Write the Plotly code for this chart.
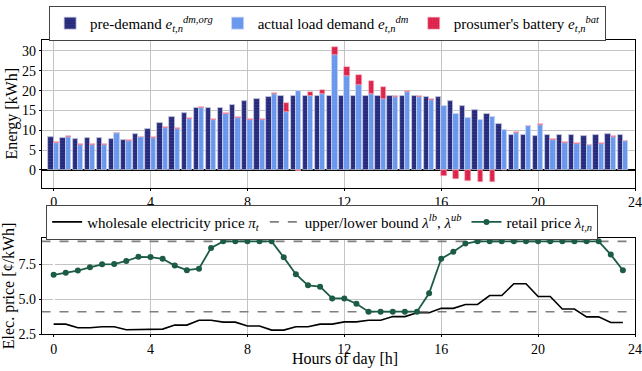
import numpy as np
import plotly.graph_objects as go

hours = [i * 0.5 for i in range(48)]

pre_demand = [8.3, 8.1, 7.8, 8.1, 8.1, 7.8, 7.5, 9.0, 10.3, 11.8, 13.3, 14.3, 15.5, 15.5, 15.6, 16.5,
              17.5, 18.0, 18.5, 18.7, 18.7, 18.7, 18.7, 18.7, 18.7, 18.7, 18.7, 18.7, 18.7, 18.7, 18.6, 18.5,
              18.5, 17.5, 16.2, 15.2, 14.2, 11.7, 8.9, 8.8, 8.6, 8.8, 8.8, 8.8, 8.6, 8.8, 9.0, 8.8]
actual_demand = [6.9, 8.4, 6.3, 6.3, 6.4, 9.2, 7.4, 8.2, 8.0, 10.6, 10.3, 12.9, 15.6, 12.6, 14.1, 13.1,
                 12.7, 12.6, 19.1, 14.5, 19.9, 18.7, 19.2, 29.0, 23.7, 21.4, 19.2, 17.9, 18.5, 19.7, 18.5, 17.7,
                 16.0, 14.0, 13.2, 12.5, 13.4, 10.1, 9.4, 11.0, 11.3, 7.5, 6.8, 6.5, 6.2, 6.5, 8.4, 7.2]
battery = [0.2, 0.2, 0.2, 0.2, 0.2, 0.2, 0.1, 0.2, 0.2, 0.2, 0.2, 0.2, 0.2, 0.2, 0.2, 0.2,
           0.2, 0.2, 0.2, 2.4, -0.3, 1.0, 1.0, 2.1, 2.2, 2.5, 3.2, 2.9, 0.2, 0.2, 0.2, 0.3,
           -1.6, -2.2, -2.9, -3.1, -3.1, -0.1, 0.2, 0.2, 0.2, 0.2, 0.2, 0.2, 0.2, 0.2, 0.2, 0.2]

wholesale = [3.21, 3.21, 2.95, 2.95, 3.02, 3.02, 2.81, 2.81, 2.85, 2.85, 3.14, 3.14, 3.49, 3.49, 3.35, 3.35,
             3.07, 3.07, 2.78, 2.78, 3.02, 3.02, 3.21, 3.21, 3.37, 3.37, 3.49, 3.49, 3.75, 3.75, 4.03, 4.03,
             4.34, 4.34, 4.62, 4.62, 5.26, 5.26, 6.11, 6.11, 5.19, 5.19, 4.29, 4.29, 3.73, 3.73, 3.33, 3.33]
retail = [6.75, 6.89, 7.05, 7.29, 7.5, 7.52, 7.74, 8.04, 8.02, 7.9, 7.41, 7.08, 7.19, 8.68, 9.15, 9.15,
          9.15, 9.15, 9.15, 8.0, 6.79, 5.99, 5.9, 5.05, 5.05, 4.67, 4.1, 4.1, 4.1, 4.1, 4.1, 5.42,
          7.9, 8.4, 8.99, 9.15, 9.15, 9.15, 9.15, 9.15, 9.15, 9.15, 9.15, 9.15, 9.15, 9.15, 8.2, 7.08]
lower_bound = 4.1
upper_bound = 9.15

x_ticks = [0, 4, 8, 12, 16, 20, 24]

FONT = "Liberation Serif"
BAR_W = 0.22
h = np.array(hours)

fig = go.Figure()

fig.add_trace(go.Bar(
    x=h - BAR_W / 2, y=pre_demand, width=BAR_W,
    name="pre-demand <i>e</i><sub><i>t,n</i></sub><sup><i>dm,org</i></sup>",
    marker=dict(color="#262a78", line=dict(color="#c9c9df", width=0.8),
                pattern=dict(shape="-", fgcolor="#3d429a", size=3, solidity=0.35)),
    xaxis="x", yaxis="y", legend="legend"))
fig.add_trace(go.Bar(
    x=h + BAR_W / 2, y=actual_demand, width=BAR_W,
    name="actual load demand <i>e</i><sub><i>t,n</i></sub><sup><i>dm</i></sup>",
    marker=dict(color="#6595ec", line=dict(color="#c9d4ef", width=0.8),
                pattern=dict(shape=".", fgcolor="#80a9f2", size=3, solidity=0.3)),
    xaxis="x", yaxis="y", legend="legend"))
fig.add_trace(go.Bar(
    x=h + BAR_W / 2, y=battery, width=BAR_W,
    name="prosumer's battery <i>e</i><sub><i>t,n</i></sub><sup><i>bat</i></sup>",
    marker=dict(color="#dc1e46", line=dict(color="#f0b8c6", width=0.6),
                pattern=dict(shape=".", fgcolor="#e84a6a", size=3, solidity=0.3)),
    xaxis="x", yaxis="y", legend="legend"))

fig.add_trace(go.Scatter(
    x=hours, y=wholesale, mode="lines", name="wholesale electricity price <i>π<sub>t</sub></i>",
    line=dict(color="black", width=1.6), xaxis="x2", yaxis="y2", legend="legend2"))
fig.add_trace(go.Scatter(
    x=[-0.5, 24], y=[upper_bound, upper_bound], mode="lines",
    name="upper/lower bound <i>λ</i><sup><i>lb</i></sup>, <i>λ</i><sup><i>ub</i></sup>",
    line=dict(color="#7f7f7f", width=1.6, dash="dash"), xaxis="x2", yaxis="y2", legend="legend2"))
fig.add_trace(go.Scatter(
    x=[-0.5, 24], y=[lower_bound, lower_bound], mode="lines", showlegend=False,
    line=dict(color="#7f7f7f", width=1.6, dash="dash"), xaxis="x2", yaxis="y2"))
fig.add_trace(go.Scatter(
    x=hours, y=retail, mode="lines+markers", name="retail price <i>λ<sub>t,n</sub></i>",
    line=dict(color="#1d5c44", width=1.8), marker=dict(color="#1d5c44", size=6),
    xaxis="x2", yaxis="y2", legend="legend2"))

axis_common = dict(showline=True, mirror=True, linecolor="black", linewidth=1.2,
                   showgrid=True, gridcolor="#c4c4c4", gridwidth=1.2,
                   ticks="outside", ticklen=2, tickcolor="black", automargin=False,
                   ticklabeloverflow="allow",
                   tickfont=dict(family=FONT, size=14, color="black"))

fig.update_layout(
    width=642, height=371,
    margin=dict(l=42, r=7, t=40, b=37, autoexpand=False),
    plot_bgcolor="white", paper_bgcolor="white",
    font=dict(family=FONT, size=15, color="black"),
    barmode="relative", bargap=0,
    xaxis=dict(domain=[0, 1], range=[-0.48, 24], tickvals=x_ticks, anchor="y", **axis_common),
    yaxis=dict(domain=[0.498, 1], range=[-4.46, 32.77], tickvals=[0, 5, 10, 15, 20, 25, 30],
               zeroline=True, zerolinecolor="black", zerolinewidth=1.8, anchor="x",
               title=dict(text="Energy [kWh]", font=dict(family=FONT, size=16), standoff=0),
               **axis_common),
    xaxis2=dict(domain=[0, 1], range=[-0.48, 24], tickvals=x_ticks, anchor="y2", **axis_common),
    yaxis2=dict(domain=[0, 0.327], range=[2.5, 9.4], tickvals=[2.5, 5.0, 7.5], ticktext=["2.5", "5.0", "7.5"],
                zeroline=False, anchor="x2",
                title=dict(text="Elec. price [¢/kWh]", font=dict(family=FONT, size=16), standoff=0),
                **axis_common),
    legend=dict(orientation="h", x=0.012, xanchor="left", y=1.116, yanchor="top",
                bordercolor="#444", borderwidth=1, bgcolor="white",
                font=dict(family=FONT, size=15), traceorder="normal", itemwidth=30),
    legend2=dict(orientation="h", x=0.007, xanchor="left", y=0.44, yanchor="top",
                 bordercolor="#444", borderwidth=1, bgcolor="white",
                 font=dict(family=FONT, size=15), traceorder="normal", itemwidth=30),
    annotations=[dict(text="Hours of day [h]", xref="paper", yref="paper", x=0.511, y=-0.123,
                      xanchor="center", yanchor="bottom", showarrow=False,
                      font=dict(family=FONT, size=16, color="black"))],
    showlegend=True,
)

fig.write_html("out.html")
